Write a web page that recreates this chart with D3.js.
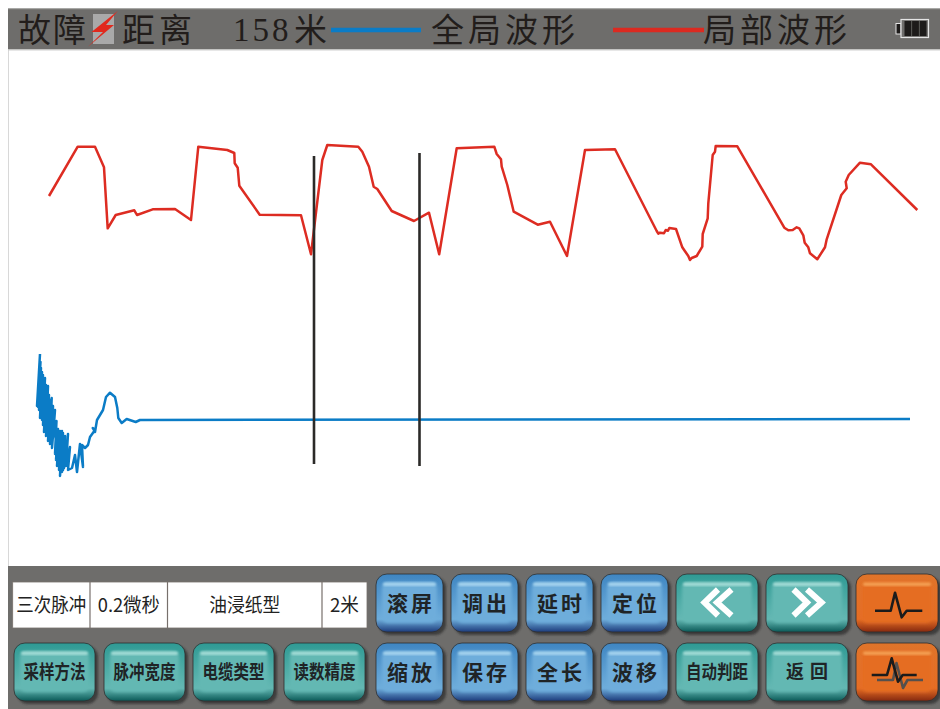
<!DOCTYPE html>
<html>
<head>
<meta charset="utf-8">
<script src="https://cdn.jsdelivr.net/npm/d3@7"></script>
<style>
	html,body{margin:0;padding:0;background:#fff;overflow:hidden}
	text{font-family:"Noto Sans CJK SC","Noto Sans",sans-serif}
</style>
</head>
<body>
<svg id="chart" width="940" height="709"></svg>
<script>
// waveforms (sample, amplitude)
const redSample = [41,69.7,87,96,99.7,107.7,126.3,129,144.7,167,183,190.3,219.3,226.3,226.7,229.7,231.3,251.7,293,303,314.3,319.3,350.3,354.3,361,365.7,369.3,383.7,406,421,431.2,448.7,486.3,488.7,493,493.7,499.3,505.7,529.7,542,559,577,607,648.7,650.3,652,656,657.7,660,661.3,668,674.3,677,680.3,682,683.7,688.7,694.3,694.7,699.7,700.3,704.7,707,707.7,729.3,776.3,780.3,784.7,788.7,791.3,795.3,796.7,800.3,802,809.3,817,818.7,833.3,838.7,837.7,840.7,852,863,909.3]
const redAmp = [370,419.3,419.3,398.7,337.7,351,355.7,351,356.7,357,346,419.3,416,413,402.7,398.3,380.3,351.3,350.7,311.7,406,421,419.3,414.3,399.3,379.3,377,355,345,353.3,311.7,417.7,419.3,412,406.7,399.3,381,354.3,341.3,344.3,310,416,416.7,335,332.3,333.3,332.7,336,335.3,338,337,318.7,314.7,310,306,308,310,319.3,332,347.7,362.7,411,414.3,420,419.7,338.3,335.7,336,338.7,337.7,330.7,323.3,318.7,312.7,306.7,318.7,326.7,371,377.7,384.3,391,403.3,401.7,356]
const blueSample = [32,29,32.5,30,33,31,34,32,35,33,36,34,37,35,38,36,39,37,40,38,41,39,42,40,43.7,42,45,44,47,45,48.5,47,50,48,51,49,52,50,53,51,54,52,55,53,56,54,57,55,58,56,60,58,62,60,64,67,69,72,75,74,77,80,82,87,84.7,87,89,95,98,102,107,109.3,110.3,113.7,118.7,127.7,132,902]
const blueAmp = [212,160,204,159,198,156,194,148,191,151,184,146,188,141,181,134,174,138,180,130,171,136,166,125,168,122,160,118,156,128,145,112,137,106,134,100,135,100,134,96,135,90,133,97,125,94,130,96,118,98,132,100,119,96,98,111,94,122,99,121,118,121,129,136,138,134,146,156,169,173.3,169,158,148,143,147,144,146,147]
const cursorSample = [306,411.5]
const cursorTop = [410,413]
const cursorBottom = [102,100]

// labels
const infoCells = ['三次脉冲','0.2微秒','油浸纸型','2米']
const infoEdges = [4.7,82,159.5,314,359]
const infoWidths = [70,62,71,29]
const topLabels = ['滚屏','调出','延时','定位']
const bottomLabels = ['缩放','保存','全长','波移']
const menuLabels = ['采样方法','脉冲宽度','电缆类型','读数精度']
const sideLabels = ['自动判距','返 回']

const width = 940, height = 709
const plotLeft = 8, plotTop = 50, plotBottom = 566

const svg = d3.select('#chart')
const defs = svg.append('defs')

const xScale = d3.scaleLinear().domain([0,width-plotLeft]).range([plotLeft,width])
const yScale = d3.scaleLinear().domain([0,plotBottom-plotTop]).range([plotBottom,plotTop])

defs.append('filter').attr('id','soft').attr('x','-20%').attr('y','-20%').attr('width','140%').attr('height','140%')
	.append('feGaussianBlur').attr('stdDeviation',1.6)
defs.append('filter').attr('id','softer').attr('x','-20%').attr('y','-20%').attr('width','140%').attr('height','140%')
	.append('feGaussianBlur').attr('stdDeviation',1)

const palette = {
	blue:{edge:'#1d3c7c',top:'#3f86c2',face:'#6eaddb',shine:'#a5d3ee'},
	teal:{edge:'#0b5a58',top:'#2f9a94',face:'#64b8b3',shine:'#a3dcd6'},
	orange:{edge:'#86290f',top:'#e0742a',face:'#e56d24',shine:'#f4a054'}
}
Object.keys(palette).forEach(function(name){
	const c = palette[name]
	const grad = defs.append('linearGradient').attr('id','bevel-'+name).attr('x1',0).attr('y1',0).attr('x2',0).attr('y2',1)
	grad.append('stop').attr('offset','0%').attr('stop-color',c.top)
	grad.append('stop').attr('offset','78%').attr('stop-color',c.face)
	grad.append('stop').attr('offset','100%').attr('stop-color',c.edge)
})

// panels
svg.append('rect').attr('x',plotLeft).attr('y',8).attr('width',width-plotLeft).attr('height',42).attr('fill','#6e6d6b')
svg.append('rect').attr('x',plotLeft).attr('y',8).attr('width',width-plotLeft).attr('height',1.2).attr('fill','#a8a8a6')
svg.append('rect').attr('x',plotLeft).attr('y',49).attr('width',width-plotLeft).attr('height',1.4).attr('fill','#c4c4c2')
svg.append('rect').attr('x',plotLeft).attr('y',plotBottom).attr('width',width-plotLeft).attr('height',height-plotBottom).attr('fill','#6e6d6b')
svg.append('rect').attr('x',plotLeft).attr('y',plotTop).attr('width',0.8).attr('height',plotBottom-plotTop).attr('fill','#cfcfcf')

// header
const headerColor = '#221d1b'
function headerText(x,label,spacing){
	svg.append('text').attr('x',x).attr('y',42)
		.attr('font-size',33).attr('fill',headerColor).attr('font-weight',400)
		.style('letter-spacing',spacing+'px')
		.text(label)
}
headerText(18,'故障',2)
headerText(122,'距离',4)
svg.append('text').attr('x',233).attr('y',41)
	.attr('font-size',33).attr('fill',headerColor)
	.style('font-family','"Liberation Serif",serif').style('letter-spacing','3px')
	.text('158')
headerText(294,'米',0)
headerText(431,'全局波形',4)
headerText(703,'局部波形',4)

svg.append('rect').attr('x',93).attr('y',14).attr('width',21).attr('height',30).attr('fill','#a9a9a9')
svg.append('polygon').attr('points','118,10.7 91.5,32 103,32 88,46.7 114,25 106,25').attr('fill','#e1291d')

svg.append('line').attr('x1',331).attr('x2',421).attr('y1',30).attr('y2',30).attr('stroke','#0b7cc6').attr('stroke-width',4.5)
svg.append('line').attr('x1',613).attr('x2',704).attr('y1',30).attr('y2',30).attr('stroke','#dc2a20').attr('stroke-width',4.5)

// battery
svg.append('rect').attr('x',896).attr('y',23.5).attr('width',5).attr('height',10.5).attr('fill','#1d1b1a').attr('stroke','#e4e4e4').attr('stroke-width',1)
svg.append('rect').attr('x',901).attr('y',19.5).attr('width',27.5).attr('height',18).attr('fill','#6e6d6b').attr('stroke','#e4e4e4').attr('stroke-width',1.2)
d3.range(3).forEach(function(i){
	svg.append('rect').attr('x',904.5+i*7.6).attr('y',21).attr('width',6.8).attr('height',15).attr('fill','#1d1b1a')
})

// waveforms
const line = d3.line().x(function(d){ return xScale(d[0]) }).y(function(d){ return yScale(d[1]) })
svg.append('path').datum(d3.zip(blueSample,blueAmp)).attr('d',line)
	.attr('fill','none').attr('stroke','#0b7cc6').attr('stroke-width',2.5).attr('stroke-linejoin','round')
svg.append('path').datum(d3.zip(redSample,redAmp)).attr('d',line)
	.attr('fill','none').attr('stroke','#dd2c22').attr('stroke-width',2.5).attr('stroke-linejoin','round')
svg.selectAll('line.cursor').data(cursorSample).join('line').attr('class','cursor')
	.attr('x1',function(d){ return xScale(d) }).attr('x2',function(d){ return xScale(d) })
	.attr('y1',function(d,i){ return yScale(cursorTop[i]) }).attr('y2',function(d,i){ return yScale(cursorBottom[i]) })
	.attr('stroke','#2b2a28').attr('stroke-width',2.6)

// info table
const info = svg.append('g')
info.append('rect').attr('x',xScale(infoEdges[0])).attr('y',582)
	.attr('width',xScale(infoEdges[4])-xScale(infoEdges[0])).attr('height',46)
	.attr('fill','#fff').attr('stroke','#77706c').attr('stroke-width',0.8)
info.selectAll('line').data(infoEdges.slice(1,4)).join('line')
	.attr('x1',function(d){ return xScale(d) }).attr('x2',function(d){ return xScale(d) })
	.attr('y1',582).attr('y2',628).attr('stroke','#77706c').attr('stroke-width',1.2)
info.selectAll('text').data(infoCells).join('text')
	.attr('x',function(d,i){ return (xScale(infoEdges[i])+xScale(infoEdges[i+1]))/2 })
	.attr('y',612).attr('text-anchor','middle').attr('font-size',19).attr('fill','#222')
	.attr('textLength',function(d,i){ return infoWidths[i] }).attr('lengthAdjust','spacingAndGlyphs')
	.text(function(d){ return d })

// buttons
function button(x,y,w,h,kind){
	const c = palette[kind]
	const g = svg.append('g').attr('transform','translate('+x+','+y+')')
	g.append('rect').attr('x',3).attr('y',3).attr('width',w).attr('height',h).attr('rx',11)
		.attr('fill','#2f2e2d').attr('opacity',0.75).attr('filter','url(#softer)')
	g.append('rect').attr('width',w).attr('height',h).attr('rx',11)
		.attr('fill','url(#bevel-'+kind+')').attr('stroke','#2e2e2e').attr('stroke-width',0.8)
	g.append('rect').attr('x',6).attr('y',8).attr('width',w-12).attr('height',h-17).attr('rx',6)
		.attr('fill',c.face).attr('filter','url(#soft)')
	g.append('rect').attr('x',7).attr('y',8.5).attr('width',w-14).attr('height',3.5).attr('rx',1.7)
		.attr('fill',c.shine).attr('filter','url(#softer)')
	return g
}
function buttonLabel(g,w,h,label,size,spacing){
	g.append('text').attr('x',w/2+spacing/2).attr('y',h/2+size*0.36)
		.attr('text-anchor','middle').attr('font-size',size).attr('font-weight',700)
		.attr('fill','#1f2426').style('letter-spacing',spacing+'px')
		.text(label)
}
// the four-character labels are squeezed, taller than they are wide
function squeezedLabel(g,w,h,label){
	g.append('text').attr('x',w/2).attr('y',h/2+7)
		.attr('text-anchor','middle').attr('font-size',19).attr('font-weight',700)
		.attr('fill','#1f2426').attr('textLength',62).attr('lengthAdjust','spacingAndGlyphs')
		.text(label)
}

const rowTop = 574, rowBottom = 643, rowH = 58
const blueLeft = [376,451,526,601], blueW = 67
topLabels.forEach(function(label,i){ buttonLabel(button(blueLeft[i],rowTop,blueW,rowH,'blue'),blueW,rowH,label,21,3) })
bottomLabels.forEach(function(label,i){ buttonLabel(button(blueLeft[i],rowBottom,blueW,rowH,'blue'),blueW,rowH,label,21,3) })

const menuLeft = [14,104,193,284], menuW = 81
menuLabels.forEach(function(label,i){ squeezedLabel(button(menuLeft[i],rowBottom,menuW,rowH,'teal'),menuW,rowH,label) })

const sideLeft = [676,766], sideW = 82
squeezedLabel(button(sideLeft[0],rowBottom,sideW,rowH,'teal'),sideW,rowH,sideLabels[0])
buttonLabel(button(sideLeft[1],rowBottom,sideW,rowH,'teal'),sideW,rowH,sideLabels[1],18,1)

function chevrons(g,points){
	points.forEach(function(p){
		g.append('polyline').attr('points',p).attr('fill','none').attr('stroke','#fff').attr('stroke-width',6)
	})
}
chevrons(button(sideLeft[0],rowTop,sideW,rowH,'teal'),['42,15.5 28.5,28.5 42,41.5','55.5,15.5 41,28.5 55.5,41.5'])
chevrons(button(sideLeft[1],rowTop,sideW,rowH,'teal'),['27.5,15.5 41,28.5 27.5,41.5','41,15.5 55.5,28.5 41,41.5'])

const orangeLeft = 856, orangeW = 82
const pulseTop = button(orangeLeft,rowTop,orangeW,rowH,'orange')
pulseTop.append('polyline').attr('points','19,36.7 34.7,36.7 39,18.7 45.7,43.3 50.7,36.7 66.3,36.7')
	.attr('fill','none').attr('stroke','#1b1b1b').attr('stroke-width',2.6).attr('stroke-linejoin','round')
const pulseBottom = button(orangeLeft,rowBottom,orangeW,rowH,'orange')
pulseBottom.append('polyline').attr('points','21,37 37,37 40.5,20 47,45 51.5,37 67,37')
	.attr('fill','none').attr('stroke','#55504d').attr('stroke-width',2.6).attr('stroke-linejoin','round')
pulseBottom.append('polyline').attr('points','15.7,32 31,32 35.7,15.3 42,38.7 46.7,32 60.7,32')
	.attr('fill','none').attr('stroke','#1b1b1b').attr('stroke-width',2.6).attr('stroke-linejoin','round')
</script>
</body>
</html>
